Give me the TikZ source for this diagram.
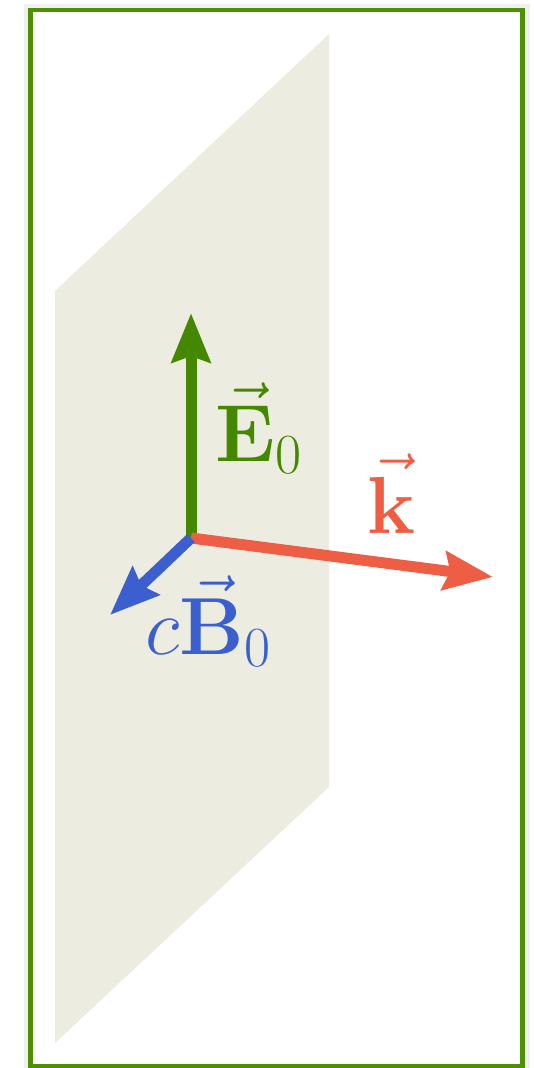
\documentclass[tikz,border=0pt]{standalone}
\usepackage{fix-cm}
\usepackage{amsmath}
\usetikzlibrary{arrows.meta}

\definecolor{framegreen}{RGB}{78,145,0}
\definecolor{egreen}{RGB}{68,136,0}
\definecolor{bblue}{RGB}{60,95,208}
\definecolor{kred}{RGB}{238,94,68}
\definecolor{planegray}{RGB}{236,236,224}

\begin{document}
\begin{tikzpicture}[x=1pt, y=-1pt,
    vec/.style={line width=11pt, -{Stealth[length=49pt, width=38pt, inset=6pt]}},
    lbl/.style={inner sep=0pt, anchor=base west, font=\fontsize{81}{85}\selectfont}]
    \useasboundingbox (0,0) rectangle (533,1068);
    % Frame
    \draw[gray!12, line width=5pt] (26,6) rectangle (527,1070);
    \draw[framegreen, line width=4.5pt, fill=white] (30.5,10) rectangle (522.5,1066);
    % Wave front
    \fill[planegray] (55,291) -- (329,34) -- (329,787) -- (55,1043) -- cycle;

    % Vectors
    \coordinate (o) at (191,538);
    \coordinate (etip) at (191,313);
    \coordinate (ktip) at (493,577);
    \coordinate (btip) at (110,615);
    \draw[vec, egreen] (o) -- (etip);
    \draw[vec, kred] (o) -- (ktip);
    \draw[vec, bblue] (o) -- (btip);

    % Labels
    \node[lbl, text=egreen] (elabel) at (215,461) {$\vec{\mathbf{E}}_0$};
    \node[lbl, text=kred] (klabel) at (367,533) {$\vec{\mathbf{k}}$};
    \node[lbl, text=bblue] (blabel) at (145,654) {$c\vec{\mathbf{B}}_0$};
\end{tikzpicture}
\end{document}
